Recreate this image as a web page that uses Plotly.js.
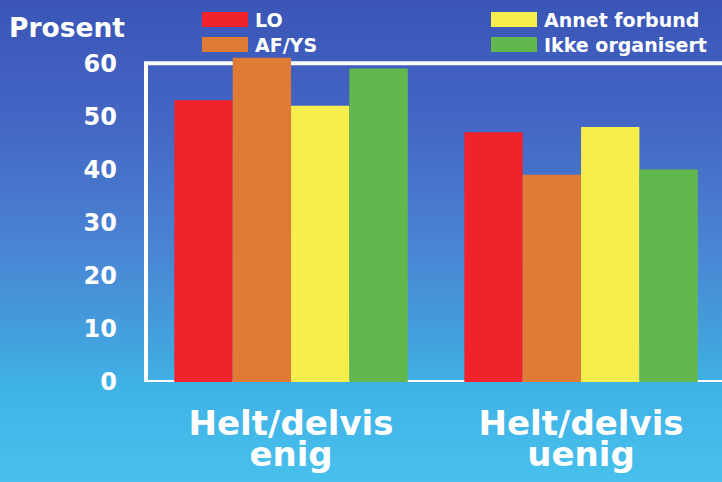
<!DOCTYPE html>
<html><head><meta charset="utf-8">
<script src="https://cdn.plot.ly/plotly-3.0.1.min.js"></script>
<style>
html,body{margin:0;padding:0;}
#chart{width:722px;height:482px;background:linear-gradient(to bottom,#3a55b6 0%,#4466c4 25%,#4a82d2 50%,#43a0dd 70%,#3fb2e6 80%,#48c0ec 100%);}
</style></head><body><div id="chart"></div>
<script>
const categories = ["Helt/delvis enig", "Helt/delvis uenig"];
const categoryLines = [["Helt/delvis", "enig"], ["Helt/delvis", "uenig"]];
const seriesNames = ["LO", "AF/YS", "Annet forbund", "Ikke organisert"];
const loValues = [53, 47];
const afysValues = [61, 39];
const annetValues = [52, 48];
const ikkeValues = [59, 40];
const seriesValues = [loValues, afysValues, annetValues, ikkeValues];
const seriesColors = ["#f0222a", "#e07b35", "#f6ee4c", "#62b84c"];
const yTicks = [0, 10, 20, 30, 40, 50, 60];
const yLabel = "Prosent";

const W = 722, H = 482, ML = 146, MR = 0, MT = 52, MB = 100;
const PW = W - ML - MR, PH = H - MT - MB;
const px = x => (x - ML) / PW;
const py = y => (H - MB - y) / PH;
const font = (size) => ({family: "DejaVu Sans", size: size, color: "#ffffff", weight: "bold"});

const traces = seriesNames.map((name, i) => ({
  type: "bar", name: name, x: categories, y: seriesValues[i],
  marker: {color: seriesColors[i], line: {width: 0}},
  showlegend: false, hoverinfo: "none"
}));

const shapes = [{
  type: "path", xref: "paper", yref: "y", layer: "below",
  path: "M1,60 L0,60 L0,0 L1,0",
  line: {color: "#ffffff", width: 4}
}];
const annotations = [{
  xref: "paper", yref: "paper", x: px(7), y: py(28), xanchor: "left", yanchor: "middle",
  text: yLabel, showarrow: false, font: font(26.5)
}];
seriesNames.forEach((name, i) => {
  const col = i < 2 ? 0 : 1, row = i % 2;
  const x0 = col === 0 ? 202 : 491, y0 = row === 0 ? 12 : 37;
  shapes.push({type: "rect", xref: "paper", yref: "paper",
    x0: px(x0), x1: px(x0 + 46), y0: py(y0), y1: py(y0 + 15),
    fillcolor: seriesColors[i], line: {width: 0}});
  annotations.push({xref: "paper", yref: "paper", x: px(x0 + 51), y: py(y0 + 8),
    xanchor: "left", yanchor: "middle", text: name, showarrow: false, font: font(19)});
});

const layout = {
  width: W, height: H,
  margin: {l: ML, r: MR, t: MT, b: MB, pad: 0},
  paper_bgcolor: "rgba(0,0,0,0)", plot_bgcolor: "rgba(0,0,0,0)",
  barmode: "group", bargap: 0.195, bargroupgap: 0,
  showlegend: false,
  xaxis: {
    type: "category", range: [-0.5, 1.486], fixedrange: true,
    tickvals: categories,
    ticktext: categoryLines.map(l => l.map(s => '<span style="font-size:34px">' + s + '</span>').join("<br>")),
    tickfont: font(24), showgrid: false, zeroline: false, showline: false,
    ticks: "", ticklabelstandoff: 28
  },
  yaxis: {
    range: [0, 62.1], tickvals: yTicks, ticktext: yTicks.map(String),
    tickfont: font(24), showgrid: false, zeroline: false, showline: false,
    ticks: "", ticklabelstandoff: 28, fixedrange: true
  },
  shapes: shapes, annotations: annotations
};

Plotly.newPlot("chart", traces, layout, {staticPlot: true, displayModeBar: false});
</script></body></html>
